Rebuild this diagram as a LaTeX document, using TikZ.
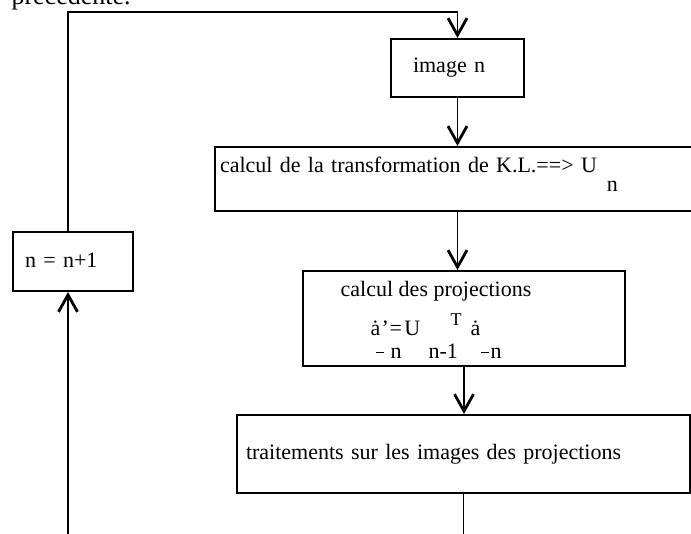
\documentclass[tikz,border=0pt]{standalone}
\usepackage{fontspec}
\setmainfont{Liberation Serif}
\usetikzlibrary{arrows.meta}
% small pieces of the formula, placed by hand
\newcommand{\fpiece}[3]{\rlap{\hspace{#1pt}\raisebox{#2pt}{#3}}}

\begin{document}
\begin{tikzpicture}[x=1pt, y=-1pt, font=\fontsize{22}{26}\selectfont,
    >={Straight Barb[length=17pt, width=19pt, line width=2.8pt]},
    box/.style={draw, line width=2pt, inner ysep=0pt},
    link/.style={line width=1.8pt, ->}]
  \useasboundingbox (0,0) rectangle (691,534);
  \clip (0,0) rectangle (691,534);

  \node[anchor=base west, font=\fontsize{26}{30}\selectfont] (prev) at (8,5) {précédente.};

  \node[box, align=left, minimum height=58pt, inner xsep=22pt, text width=89pt,
    text height=20pt, text depth=10pt] (img) at (457.5,68) {image n};
  \node[box, align=left, minimum height=64pt, inner xsep=5pt, text width=475pt,
    text height=16pt, text depth=28pt] (kl) at (457.5,179)
    {calcul de la transformation de K.L.==> U\fpiece{10}{-19}{n}};
  \node[box, minimum width=322pt, minimum height=95pt, inner xsep=0pt] (proj) at (464,318.5)
    {\begin{tabular}{@{}c@{\hspace{56pt}}}
      calcul des projections\\[10pt]
      \makebox[131pt][l]{\fpiece{0}{0}{\.a}\fpiece{5}{-17}{\rule{8pt}{1.2pt}}%
        \fpiece{11}{0}{'}\fpiece{20}{-23}{n}\fpiece{19}{0}{=}\fpiece{34}{0}{U}%
        \fpiece{58}{-23}{n-1}\fpiece{80}{10}{\fontsize{18}{20}\selectfont T}%
        \fpiece{100}{0}{\.a}\fpiece{110}{-17}{\rule{8pt}{1.2pt}}\fpiece{120}{-23}{n}}
    \end{tabular}};
  \node[box, align=left, minimum height=78pt, inner xsep=9pt, text width=435pt,
    text height=20pt, text depth=8pt] (tr) at (463.5,454)
    {traitements sur les images des projections};
  \node[box, align=left, minimum height=59pt, inner xsep=12pt, text width=96pt,
    text height=20pt, text depth=7pt] (nb) at (73,261.5) {n = n+1};

  \coordinate (up) at (68,12);
  \coordinate (back) at (68,560);

  \draw[link] (nb.north -| up) -- (up) -| (img.north);
  \draw[link] (img.south) -- (img.south |- kl.north);
  \draw[link] (kl.south) -- (kl.south |- proj.north);
  \draw[link] (proj.south) -- (proj.south |- tr.north);
  \draw[link] (tr.south) |- (back) -- (nb.south -| back);
\end{tikzpicture}
\end{document}
